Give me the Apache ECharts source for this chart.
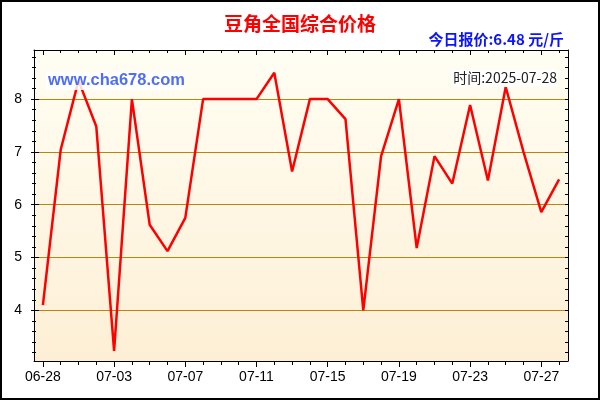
<!DOCTYPE html>
<html>
<head>
<meta charset="utf-8">
<script src="https://cdn.jsdelivr.net/npm/echarts@6/dist/echarts.min.js"></script>
<style>html,body{margin:0;padding:0;background:#fff}#c{width:600px;height:400px}</style>
</head>
<body>
<div id="c"></div>
<script>
var dates = ['06-28','06-29','06-30','07-01','07-03','07-04','07-05','07-06','07-07','07-08',
             '07-09','07-10','07-11','07-12','07-13','07-14','07-15','07-16','07-17','07-18',
             '07-19','07-20','07-21','07-22','07-23','07-24','07-25','07-26','07-27','07-28'];
var prices = [4.1, 7.04, 8.35, 7.48, 3.23, 8.0, 5.62, 5.12, 5.75, 8.0,
              8.0, 8.0, 8.0, 8.5, 6.63, 8.0, 8.0, 7.62, 4.0, 6.92,
              8.0, 5.18, 6.92, 6.4, 7.89, 6.46, 8.23, 7.0, 5.86, 6.48];
var yMajor = [4, 5, 6, 7, 8];
var yMinor = [3.2, 3.4, 3.6, 3.8, 4.2, 4.4, 4.6, 4.8, 5.2, 5.4, 5.6, 5.8, 6.2, 6.4, 6.6, 6.8,
              7.2, 7.4, 7.6, 7.8, 8.2, 8.4, 8.6, 8.8];
var yMin = 3.04, yMax = 8.93;
var titleText = '豆角全国综合价格';
var priceText = '今日报价:6.48 元/斤';
var siteText = 'www.cha678.com';
var timeText = '时间:2025-07-28';

var chart = echarts.init(document.getElementById('c'), null, {renderer: 'canvas'});
var latin = 'Liberation Sans, Arial, sans-serif';
var cjk = 'Noto Sans CJK SC, sans-serif';
function xa(pos, show, tickInterval, len, inside, labels) {
  return {
    type: 'category', data: dates, position: pos, boundaryGap: true, z: 3,
    axisLine: {show: show, onZero: false, lineStyle: {color: '#000', width: 1}},
    axisTick: {show: true, interval: tickInterval, alignWithLabel: true, length: len, inside: inside, lineStyle: {color: '#000'}},
    axisLabel: {show: labels, interval: 3, color: '#000', fontSize: 14, fontFamily: latin, margin: 9},
    splitLine: {show: false}
  };
}
function ya(pos, show, vals, len, inside, labels, split) {
  return {
    type: 'value', position: pos, min: yMin, max: yMax, z: 2,
    axisLine: {show: show, onZero: false, lineStyle: {color: '#000', width: 1}},
    axisTick: {show: true, customValues: vals, length: len, inside: inside, lineStyle: {color: '#000'}},
    axisLabel: {show: labels, customValues: yMajor, color: '#000', fontSize: 14, fontFamily: latin, margin: 12},
    splitLine: {show: split, lineStyle: {color: '#B8860B', width: 1}}
  };
}
chart.setOption({
  animation: false,
  grid: {
    left: 34, top: 50, right: 32, bottom: 39, show: true, borderWidth: 0,
    backgroundColor: new echarts.graphic.LinearGradient(0, 0, 0, 1, [
      {offset: 0, color: '#FFFEF3'}, {offset: 1, color: '#FDEFD5'}])
  },
  xAxis: [
    xa('bottom', true, 3, 6, false, true),
    xa('bottom', false, 0, 4, false, false),
    xa('top', true, 3, 5, true, false),
    xa('top', false, 0, 3, true, false)
  ],
  yAxis: [
    ya('left', true, yMajor, 3, false, true, true),
    ya('left', false, yMajor, 5, true, false, false),
    ya('left', false, yMinor, 2, false, false, false),
    ya('left', false, yMinor, 2, true, false, false),
    ya('right', true, yMajor, 3, true, false, false),
    ya('right', false, yMinor, 3, true, false, false)
  ],
  series: [{
    type: 'line', data: prices, xAxisIndex: 0, yAxisIndex: 0,
    showSymbol: false, symbol: 'none', smooth: false,
    lineStyle: {color: '#FF0000', width: 2.5}
  }],
  graphic: [
    {type: 'rect', z: 100, shape: {x: 1, y: 1, width: 598, height: 398}, style: {fill: 'none', stroke: '#000', lineWidth: 2}},
    {type: 'text', z: 100, x: 300, y: 24, style: {text: titleText, fill: '#FF0000', font: 'bold 19px ' + cjk, textAlign: 'center', textVerticalAlign: 'middle'}},
    {type: 'text', z: 100, x: 564, y: 39, style: {text: priceText, fill: '#0A14FF', font: 'bold 15px ' + cjk, textAlign: 'right', textVerticalAlign: 'middle'}},
    {type: 'rect', z: 99, shape: {x: 46, y: 72, width: 138, height: 18}, style: {fill: 'rgba(255,255,255,0.85)'}},
    {type: 'text', z: 100, x: 48, y: 80, style: {text: siteText, fill: '#4F6EF5', font: 'bold 16.5px ' + latin, textAlign: 'left', textVerticalAlign: 'middle'}},
    {type: 'rect', z: 99, shape: {x: 451, y: 70, width: 107, height: 17}, style: {fill: 'rgba(255,255,255,0.85)'}},
    {type: 'text', z: 100, x: 557, y: 78, style: {text: timeText, fill: '#222', font: '14px ' + cjk, textAlign: 'right', textVerticalAlign: 'middle'}}
  ]
});
</script>
</body>
</html>
